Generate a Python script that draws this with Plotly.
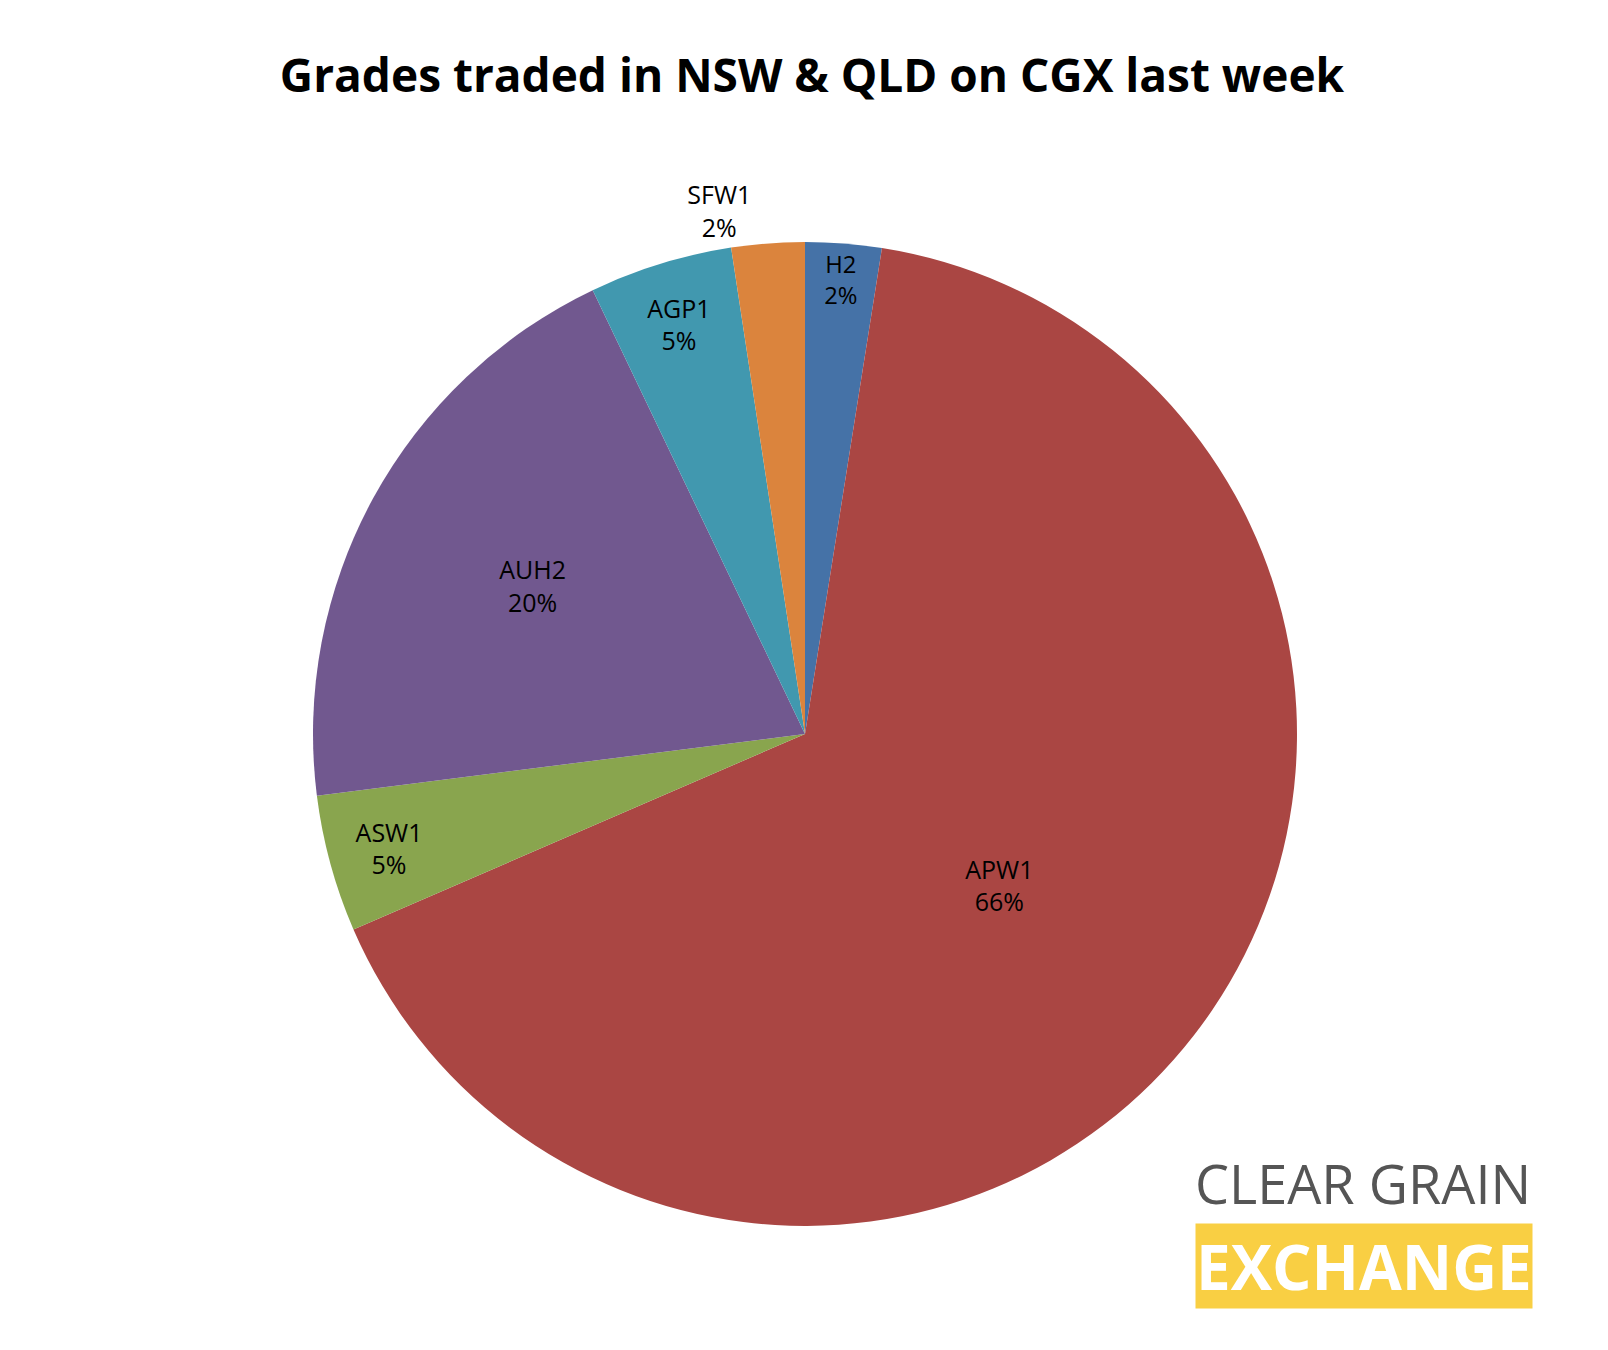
import plotly.graph_objects as go

grades = ["H2", "APW1", "ASW1", "AUH2", "AGP1", "SFW1"]
shares = [2.5, 66.0, 4.5, 19.9, 4.7, 2.4]
pct_labels = ["2%", "66%", "5%", "20%", "5%", "2%"]
colors = ["#4572A7", "#AA4643", "#89A54E", "#71588F", "#4198AF", "#DB843D"]

fig = go.Figure(go.Pie(
    labels=grades,
    values=shares,
    text=pct_labels,
    texttemplate="%{label}<br>%{text}",
    textposition=["inside", "inside", "inside", "inside", "inside", "outside"],
    insidetextorientation="horizontal",
    textfont=dict(family="Open Sans", size=25, color="black"),
    marker=dict(colors=colors, line=dict(width=0)),
    sort=False,
    direction="clockwise",
    rotation=0,
    showlegend=False,
    hoverinfo="label+percent",
))

fig.update_layout(
    width=1608, height=1350,
    paper_bgcolor="white",
    margin=dict(l=305, r=319, t=233, b=131),
    title=dict(text="<b>Grades traded in NSW &amp; QLD on CGX last week</b>",
               x=0.5, xanchor="center", y=1 - 68 / 1350, yanchor="middle",
               font=dict(family="Open Sans", size=46, color="black")),
    annotations=[
        dict(text="CLEAR GRAIN", xref="paper", yref="paper", x=1.24, y=0.005,
             xanchor="right", yanchor="bottom", showarrow=False,
             font=dict(family="Open Sans", size=54, color="#555555")),
        dict(text="<b>EXCHANGE</b>", xref="paper", yref="paper", x=1.24, y=-0.083,
             xanchor="right", yanchor="bottom", showarrow=False,
             bgcolor="#F9CF43", borderpad=0,
             font=dict(family="Open Sans", size=62, color="white")),
    ],
)

fig.write_html("out.html")
